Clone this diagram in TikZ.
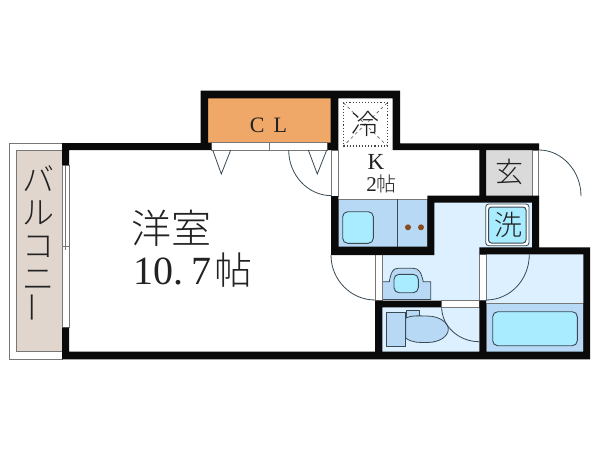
\documentclass[tikz,border=0pt]{standalone}
\usepackage{fontspec}
\setmainfont{Noto Sans CJK JP Light}
\newfontfamily\latfont{Liberation Serif}
\definecolor{wallc}{HTML}{0A0A0A}
\definecolor{linec}{HTML}{3A4A55}
\definecolor{gline}{HTML}{777777}
\definecolor{clc}{HTML}{F0A868}
\definecolor{floorc}{HTML}{DCF0FF}
\definecolor{fixc}{HTML}{B7D9F5}
\definecolor{bowlc}{HTML}{A9ECFF}
\definecolor{balc}{HTML}{E0D6CE}
\definecolor{genc}{HTML}{DADADA}
\definecolor{txt}{HTML}{222222}
\definecolor{dotc}{HTML}{8A4A20}
\tikzset{
  wall/.style={fill=wallc,draw=none},
  frame/.style={fill=white,draw=gline,line width=0.7pt},
  doorarc/.style={draw=linec,line width=0.8pt},
  fixture/.style={fill=fixc,draw=linec,line width=0.8pt},
  basin/.style={fill=bowlc,draw=linec,line width=0.9pt,rounded corners=5pt},
  label/.style={text=txt,inner sep=0pt,outer sep=0pt},
}
\begin{document}
\begin{tikzpicture}[x=1pt,y=-1pt]
\useasboundingbox (0,0) rectangle (600,450);
\fill[white] (0,0) rectangle (600,450);
% balcony
\draw[draw=gline,line width=0.9pt] (9,143.5) rectangle (62,359);
\draw[fill=balc,draw=gline,line width=0.8pt] (16.3,150) rectangle (62,351.7);
% floors
\fill[floorc] (434,202) -- (532,202) -- (532,254) -- (479,254) -- (479,300) -- (382,300) -- (382,254) -- (434,254) -- cycle;
\fill[floorc] (382,307) rectangle (479.3,352);
\fill[floorc] (486,254) rectangle (583.5,303.3);
\fill[genc] (486,150) rectangle (532,196);
\fill[clc] (208,98) rectangle (331,142.5);
% kitchen
\draw[fixture,draw=gline] (338,199.3) rectangle (427.5,247);
\draw[draw=linec,line width=0.8pt] (397.3,199.3) -- (397.3,247);
\draw[basin] (342.7,211.7) rectangle (373.3,243.3);
\fill[dotc] (408,227.3) circle (3);
\fill[dotc] (421,227.3) circle (3);
% bath
\draw[fixture,draw=gline] (486,303.3) rectangle (583.5,352);
\draw[basin] (492.7,311.7) rectangle (577.3,345.7);
% wash basin
\draw[fixture] (382.3,299.5) -- (382.3,281.7) -- (389.3,281.7) .. controls (391,272) and (393,268.3) .. (398,268.3) -- (413,268.3) .. controls (419,268.3) and (421,272) .. (423.3,281.7) -- (430.7,281.7) -- (430.7,299.5) -- cycle;
\draw[basin] (394,274.3) rectangle (418.3,292.7);
% toilet
\draw[fixture] (406,310.7) rectangle (419,317);
\draw[fixture] (405.7,318) .. controls (412,315) and (420,316) .. (427,316) .. controls (440,316) and (448.3,323) .. (448.3,329.3) .. controls (448.3,336) and (440,342.5) .. (427,342.5) .. controls (420,342.5) and (412,343) .. (405.7,338) -- cycle;
\draw[fixture] (386.7,312.7) rectangle (405.7,346);
% fridge
\draw[draw=black!75,line width=1.1pt,dotted] (343.3,102.7) rectangle (387.3,146);
\draw[draw=black!65,line width=0.6pt,dashed] (343.3,102.7) -- (387.3,146) (387.3,102.7) -- (343.3,146);
% washer
\draw[fill=white,draw=linec,line width=0.8pt,rounded corners=3pt] (485.7,204) rectangle (529,245.7);
\draw[fill=bowlc,draw=linec,line width=1pt,rounded corners=3pt] (488.5,207) rectangle (526,243);
% door frames
\draw[frame] (211.3,142.5) rectangle (269.3,150);
\draw[frame] (269.3,142.5) rectangle (327.5,150);
\draw[frame] (331.7,150) rectangle (338.3,196);
\draw[frame] (532,150) rectangle (538.7,196);
\draw[frame] (375,254) rectangle (382.3,300);
\draw[frame] (479.3,254) rectangle (486,300);
\draw[frame] (441,300) rectangle (479.3,307.3);
\draw[frame] (62,165) rectangle (69,327.5);
\draw[draw=gline,line width=0.7pt] (65.5,165) -- (65.5,250) (62,246.7) -- (69,246.7);
% walls
\fill[wall] (200.7,90.7) -- (400,90.7) -- (400,143.3) -- (539,143.3) -- (539,150) -- (486,150) -- (486,195.7) -- (539,195.7) -- (539,247.3) -- (590,247.3) -- (590,359.3) -- (62,359.3) -- (62,327.5) -- (69,327.5) -- (69,351.7) -- (375,351.7) -- (375,300.5) -- (441,300.5) -- (441,307.3) -- (382.3,307.3) -- (382.3,351.7) -- (479.3,351.7) -- (479.3,300.5) -- (486,300.5) -- (486,351.7) -- (583.3,351.7) -- (583.3,254.3) -- (479.3,254.3) -- (479.3,247.3) -- (532,247.3) -- (532,202.7) -- (434.3,202.7) -- (434.3,255) -- (331,255) -- (331,196) -- (338.3,196) -- (338.3,246.7) -- (427.3,246.7) -- (427.3,195.7) -- (479.3,195.7) -- (479.3,150) -- (392.7,150) -- (392.7,98.3) -- (338.3,98.3) -- (338.3,150) -- (327.5,150) -- (327.5,142.5) -- (330.7,142.5) -- (330.7,98.3) -- (208,98.3) -- (208,142.5) -- (211.3,142.5) -- (211.3,150) -- (69,150) -- (69,165) -- (62,165) -- (62,143) -- (200.7,143) -- cycle;
% doors and swing triangles
\draw[doorarc] (212.7,150) -- (221.3,174) -- (230.7,150);
\draw[doorarc] (308.3,150) -- (317.3,174) -- (326.7,150);
\draw[doorarc] (288.7,150) .. controls (288.7,175.2) and (308,195.7) .. (331.7,195.7);
\draw[doorarc] (539,150) .. controls (562,150) and (581,171) .. (581,196);
\draw[doorarc] (331,255) .. controls (331,280) and (351,300) .. (375,300);
\draw[doorarc] (529.3,254.3) .. controls (529.3,280) and (510,300) .. (486,300);
\draw[doorarc] (441.7,307.3) .. controls (441.7,326) and (458.5,341.7) .. (479.3,341.7);
% labels
\node[label,font=\fontsize{32}{33}\selectfont] (bal) at (38,245) {\parbox{34pt}{\centering\baselineskip=33pt バ\\ル\\コ\\ニ\\\rotatebox{90}{ー}}};
\node[label,font=\fontsize{40}{40}\selectfont] (yoshitsu) at (171.5,228) {洋室};
\node[label,anchor=base west] (size) at (133,284) {{\latfont\fontsize{40}{40}\selectfont 10.\hspace{8pt}7}\hspace{3pt}\fontsize{38}{38}\selectfont 帖};
\node[label,font=\latfont\fontsize{22}{22}\selectfont] (cl) at (268.5,125.5) {C\hspace{9pt}L};
\node[label,font=\fontsize{28}{28}\selectfont] (rei) at (365,124) {冷};
\node[label,font=\latfont\fontsize{23}{23}\selectfont] (k) at (376,161.5) {K};
\node[label] (two) at (381.5,184) {{\latfont\fontsize{21}{21}\selectfont 2}\fontsize{20}{20}\selectfont 帖};
\node[label,font=\fontsize{28}{28}\selectfont] (gen) at (509,172) {玄};
\node[label,font=\fontsize{28}{28}\selectfont] (sen) at (508.5,224.5) {洗};
\end{tikzpicture}
\end{document}
